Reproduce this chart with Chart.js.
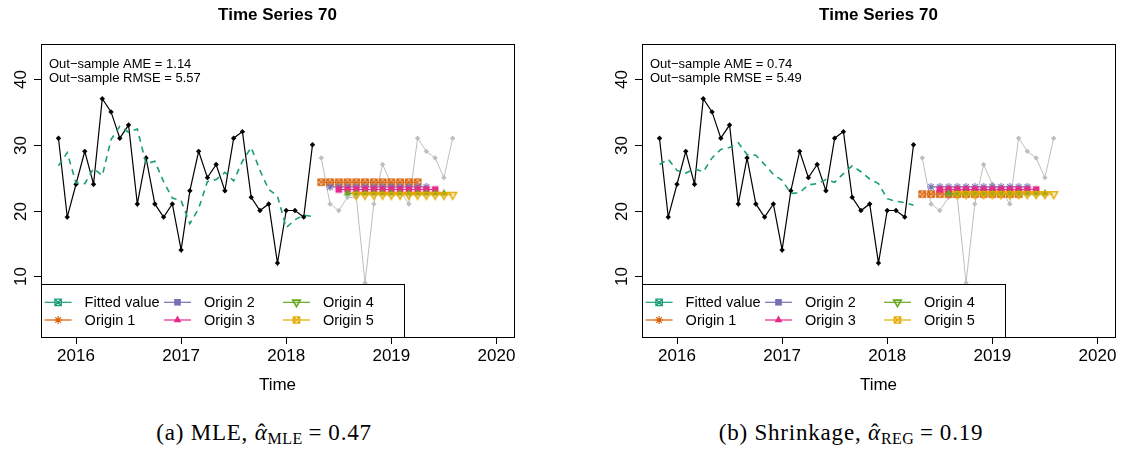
<!DOCTYPE html>
<html>
<head>
<meta charset="utf-8">
<script src="https://cdn.jsdelivr.net/npm/chart.js@4/dist/chart.umd.min.js"></script>
<style>
  html, body { margin: 0; padding: 0; background: #fff; width: 1124px; height: 450px; overflow: hidden; }
  canvas { position: absolute; top: 0; }
  .cap { position: absolute; top: 419px; transform: translateX(-50%); white-space: nowrap;
         font-family: "Liberation Serif", "DejaVu Serif", serif; font-size: 23px; letter-spacing: 0.8px;
         color: #000; line-height: 27px; }
  .cap sub { font-size: 16px; vertical-align: -4px; letter-spacing: 0.4px; }
  .cap .eq { margin: 0 6px; }
  .ah { position: relative; display: inline-block; font-style: italic; }
  .ah .hm { position: absolute; left: 3px; top: 0px; font-style: normal; }
</style>
</head>
<body>
<canvas id="mle" width="523" height="400" style="left:0px"></canvas>
<canvas id="reg" width="523" height="400" style="left:601px"></canvas>
<div class="cap" style="left:264px">(a) MLE, <span class="ah">α<span class="hm">ˆ</span></span><sub>MLE</sub><span class="eq">=</span>0.47</div>
<div class="cap" style="left:851px">(b) Shrinkage, <span class="ah">α<span class="hm">ˆ</span></span><sub>REG</sub><span class="eq">=</span>0.19</div>
<script>
// ---- data: monthly series starting Nov 2015 ----
const firstYear = 2015;
const firstMonth = 11;
const horizon = 12;

const inSample = [31, 19, 24, 29, 24, 37, 35, 31, 33, 21, 28, 21, 19, 21, 14,
                  23, 29, 25, 27, 23, 31, 32, 22, 20, 21, 12, 20, 20, 19, 30];
const outSample = [28, 21, 20, 22, 22, 9, 21, 27, 24, 23, 21, 31, 29, 28, 25, 31];

const fittedMLE = [26.8, 28.8, 24.2, 24.1, 26.4, 25.3, 30.8, 32.8, 31.9, 32.4,
                   27.1, 27.5, 24.4, 21.9, 21.5, 18.0, 20.3, 24.4, 24.7, 25.8,
                   24.5, 27.5, 29.6, 26.1, 23.2, 22.2, 17.4, 18.6, 19.3, 19.1];
const fittedREG = [27.0, 27.8, 26.1, 25.7, 26.3, 25.9, 28.0, 29.3, 29.6, 30.3,
                   28.5, 28.4, 27.0, 25.5, 24.6, 22.6, 22.7, 23.9, 24.1, 24.7,
                   24.3, 25.6, 26.8, 25.9, 24.8, 24.1, 21.8, 21.4, 21.2, 20.8];

// flat forecast level produced at each of the five rolling origins
const originLevelsMLE = [24.3, 23.6, 23.2, 22.6, 22.4];
const originLevelsREG = [22.5, 23.6, 23.2, 22.6, 22.5];

const seriesNames = ['Fitted value', 'Origin 1', 'Origin 2', 'Origin 3', 'Origin 4', 'Origin 5'];
const yearTicks = [2016, 2017, 2018, 2019, 2020];
const valueTicks = [10, 20, 30, 40];

// ---- styling ----
const COLORS = ['#1B9E77', '#D95F02', '#7570B3', '#E7298A', '#66A61E', '#E6AB02'];
const GREY = '#BEBEBE';
const FONT = '"Liberation Sans", Arial, Helvetica, sans-serif';
Chart.defaults.font.family = FONT;
Chart.defaults.color = '#000';

const timeAt = i => firstYear + (firstMonth - 1 + i) / 12;

function drawMark(g, kind, x, y, color) {
  g.save();
  g.strokeStyle = color; g.fillStyle = color; g.lineWidth = 1.3;
  g.beginPath();
  if (kind === 'boxX') {
    const r = 3.2;
    g.rect(x - r, y - r, 2 * r, 2 * r);
    g.moveTo(x - r, y - r); g.lineTo(x + r, y + r);
    g.moveTo(x + r, y - r); g.lineTo(x - r, y + r);
    g.stroke();
  } else if (kind === 'star') {
    const r = 4;
    g.lineWidth = 1.1;
    for (let k = 0; k < 4; k++) {
      const an = k * Math.PI / 4;
      g.moveTo(x - r * Math.cos(an), y - r * Math.sin(an));
      g.lineTo(x + r * Math.cos(an), y + r * Math.sin(an));
    }
    g.stroke();
  } else if (kind === 'square') {
    const r = 3.3;
    g.rect(x - r, y - r, 2 * r, 2 * r);
    g.fill();
  } else if (kind === 'triUp') {
    const r = 4.5;
    g.moveTo(x, y - r); g.lineTo(x + r * 0.866, y + r * 0.5); g.lineTo(x - r * 0.866, y + r * 0.5);
    g.closePath(); g.fill();
  } else if (kind === 'triDown') {
    const r = 4.4;
    g.lineWidth = 1.6;
    g.moveTo(x, y + r); g.lineTo(x + r * 0.866, y - r * 0.5); g.lineTo(x - r * 0.866, y - r * 0.5);
    g.closePath(); g.stroke();
  }
  g.restore();
}

function markCanvas(kind, color) {
  const c = document.createElement('canvas');
  c.width = 12; c.height = 12;
  drawMark(c.getContext('2d'), kind, 6, 6, color);
  return c;
}

// symbols on the plotted forecasts and in the key
const plotMarks = ['boxX', 'star', 'square', 'triUp', 'triDown'];
const legendMarks = ['boxX', 'star', 'square', 'triUp', 'triDown', 'boxX'];

// frame, y axis ticks and labels, metrics text and inset key
const rFrame = {
  id: 'rFrame',
  afterDatasetsDraw(chart, args, opts) {
    const { ctx, chartArea: a } = chart;
    const left = Math.round(a.left), right = Math.round(a.right);
    const top = Math.round(a.top), bottom = Math.round(a.bottom);
    ctx.save();
    // metrics text
    ctx.font = '13px ' + FONT;
    ctx.fillStyle = '#000';
    ctx.textAlign = 'left';
    ctx.textBaseline = 'middle';
    opts.notes.forEach((t, i) => ctx.fillText(t, left + 8, top + 20 + i * 14.7));

    // inset key
    const w = 363, h = 53;
    const x0 = left, y0 = bottom - h;
    ctx.fillStyle = '#fff';
    ctx.fillRect(x0, y0, w, h);
    ctx.strokeStyle = '#000';
    ctx.lineWidth = 1;
    ctx.strokeRect(x0 + 0.5, y0 + 0.5, w, h);
    const colX = [3.6, 123, 242];
    const rowY = [18.3, 36];
    ctx.font = '14.5px ' + FONT;
    seriesNames.forEach((name, i) => {
      const cx = x0 + colX[Math.floor(i / 2)];
      const cy = y0 + rowY[i % 2];
      ctx.strokeStyle = COLORS[i];
      ctx.lineWidth = 1.2;
      ctx.beginPath();
      ctx.moveTo(cx, cy); ctx.lineTo(cx + 27, cy);
      ctx.stroke();
      drawMark(ctx, legendMarks[i], cx + 13.5, cy, COLORS[i]);
      ctx.fillStyle = '#000';
      ctx.fillText(name, cx + 40, cy + 0.5);
    });

    // plot frame
    ctx.strokeStyle = '#000';
    ctx.lineWidth = 1;
    ctx.strokeRect(left + 0.5, top + 0.5, right - left, bottom - top);

    // y axis: outward ticks and labels parallel to the axis
    const ys = chart.scales.y;
    ctx.font = '17px ' + FONT;
    ctx.fillStyle = '#000';
    ctx.textAlign = 'center';
    ctx.textBaseline = 'middle';
    valueTicks.forEach(v => {
      const py = Math.round(ys.getPixelForValue(v)) + 0.5;
      ctx.beginPath();
      ctx.moveTo(left - 7, py); ctx.lineTo(left + 0.5, py);
      ctx.stroke();
      ctx.save();
      ctx.translate(left - 20, py);
      ctx.rotate(-Math.PI / 2);
      ctx.fillText(String(v), 0, 0);
      ctx.restore();
    });
    ctx.restore();
  }
};

function buildPanel(id, fitted, levels, notes) {
  const datasets = [];
  // forecasts, origin 5 drawn on top
  levels.forEach((lvl, k) => {
    const pts = [];
    for (let j = 0; j < horizon; j++) {
      pts.push({ x: timeAt(inSample.length + k + j), y: lvl });
    }
    datasets.push({
      label: seriesNames[k + 1], data: pts,
      borderColor: COLORS[k + 1], borderWidth: 1,
      pointStyle: markCanvas(plotMarks[k], COLORS[k + 1]),
      pointRadius: 4, order: 4 - k
    });
  });
  datasets.push({
    label: seriesNames[0],
    data: fitted.map((v, i) => ({ x: timeAt(i), y: v })),
    borderColor: COLORS[0], borderWidth: 1.6, borderDash: [6, 5],
    pointRadius: 0, order: 5
  });
  datasets.push({
    label: 'Actual',
    data: inSample.map((v, i) => ({ x: timeAt(i), y: v })),
    borderColor: '#000', backgroundColor: '#000', borderWidth: 1.2,
    pointStyle: 'rectRot', pointRadius: 2.7, pointBorderWidth: 0, order: 6
  });
  datasets.push({
    label: 'Holdout',
    data: outSample.map((v, i) => ({ x: timeAt(inSample.length + i), y: v })),
    borderColor: GREY, backgroundColor: GREY, borderWidth: 1,
    pointStyle: 'rectRot', pointRadius: 2.7, pointBorderWidth: 0, order: 7
  });

  const axisGrid = { drawOnChartArea: false, drawTicks: true, tickLength: 7, color: '#000', lineWidth: 1 };

  return new Chart(document.getElementById(id), {
    type: 'line',
    data: { datasets },
    plugins: [rFrame],
    options: {
      responsive: false,
      animation: false,
      devicePixelRatio: 1,
      layout: { padding: { left: 0, right: 9, top: 0, bottom: 0 } },
      elements: { line: { tension: 0 } },
      plugins: {
        legend: { display: false },
        tooltip: { enabled: false },
        title: {
          display: true, text: 'Time Series 70', fullSize: false,
          font: { size: 17, weight: 'bold' }, color: '#000',
          padding: { top: 5, bottom: 18.6 }
        },
        rFrame: { notes }
      },
      scales: {
        x: {
          type: 'linear', min: 2015.667, max: 2020.167,
          afterBuildTicks: s => { s.ticks = yearTicks.map(v => ({ value: v })); },
          afterFit: s => { s.height = 63; },
          ticks: { callback: v => String(v), font: { size: 17 }, color: '#000', padding: 2.5,
                   maxRotation: 0, autoSkip: false },
          grid: axisGrid,
          border: { display: true, color: '#000' },
          title: { display: true, text: 'Time', font: { size: 17 }, color: '#000',
                   padding: { top: 0, bottom: 4 } }
        },
        y: {
          type: 'linear', min: 0.76, max: 45.33,
          afterBuildTicks: s => { s.ticks = valueTicks.map(v => ({ value: v })); },
          afterFit: s => { s.width = 41; },
          ticks: { display: false },
          grid: { display: false },
          border: { display: true, color: '#000' }
        }
      }
    }
  });
}

buildPanel('mle', fittedMLE, originLevelsMLE,
  ['Out\u2212sample AME = 1.14', 'Out\u2212sample RMSE = 5.57']);
buildPanel('reg', fittedREG, originLevelsREG,
  ['Out\u2212sample AME = 0.74', 'Out\u2212sample RMSE = 5.49']);
</script>
</body>
</html>
